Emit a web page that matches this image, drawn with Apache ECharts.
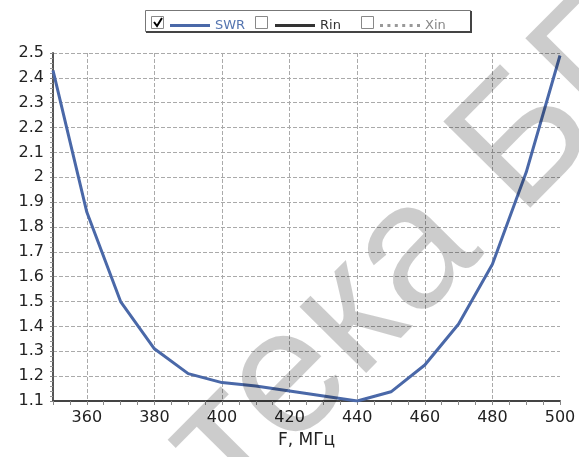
<!DOCTYPE html>
<html>
<head>
<meta charset="utf-8">
<script src="https://cdn.jsdelivr.net/npm/echarts@6/dist/echarts.min.js"></script>
<style>
    html, body { margin: 0; padding: 0; background: #fff; }
    #main { width: 579px; height: 457px; }
</style>
</head>
<body>
<div id="main"></div>
<script>
    // частота, МГц и КСВ
    const freq = [350, 360, 370, 380, 390, 400, 410, 420, 430, 440, 450, 460, 470, 480, 490, 500];
    const swr = [2.43, 1.86, 1.5, 1.31, 1.21, 1.174, 1.16, 1.14, 1.12, 1.1, 1.137, 1.245, 1.41, 1.65, 2.02, 2.49];
    const xLabels = [360, 380, 400, 420, 440, 460, 480, 500];
    const xGrid = [360, 380, 400, 420, 440, 460, 480];
    const legendNames = ['SWR', 'Rin', 'Xin'];

    const font = 'DejaVu Sans';
    const lineIcon = 'path://M0,0L40,0L40,3L0,3Z';
    const dotIcon = 'path://M0,0h3v3h-3zM7.4,0h3v3h-3zM14.8,0h3v3h-3zM22.2,0h3v3h-3zM29.6,0h3v3h-3zM37,0h3v3h-3z';
    const myChart = echarts.init(document.getElementById('main'));

    const legendBase = {
        top: 19,
        padding: 0,
        itemWidth: 40,
        itemHeight: 3,
        selectedMode: false,
        textStyle: {fontFamily: font, fontSize: 13}
    };

    const option = {
        animation: false,
        backgroundColor: '#fff',
        grid: {left: 53, right: 19, top: 53, bottom: 56},
        legend: [
            Object.assign({}, legendBase, {left: 170, data: [{name: legendNames[0], icon: lineIcon, textStyle: {color: '#5575b0'}}]}),
            Object.assign({}, legendBase, {left: 275, data: [{name: legendNames[1], icon: lineIcon, textStyle: {color: '#333'}}]}),
            Object.assign({}, legendBase, {left: 380, data: [{name: legendNames[2], icon: dotIcon, textStyle: {color: '#888'}}]})
        ],
        xAxis: [{
            type: 'value',
            min: 350,
            max: 500,
            interval: 5,
            name: 'F, МГц',
            nameLocation: 'middle',
            nameGap: 31,
            nameTextStyle: {fontFamily: font, fontSize: 17, color: '#222'},
            axisLine: {show: true, onZero: false, lineStyle: {color: '#444', width: 2}},
            axisTick: {show: true, length: 4, lineStyle: {color: '#888'}},
            axisLabel: {customValues: xLabels, margin: 9, fontFamily: font, fontSize: 16, color: '#222'},
            splitLine: {show: false}
        }, {
            type: 'value',
            min: 350,
            max: 500,
            position: 'bottom',
            axisLine: {show: false},
            axisTick: {show: false, customValues: xGrid},
            axisLabel: {show: false},
            splitLine: {show: true, lineStyle: {color: '#aaa', type: 'dashed', width: 1}}
        }],
        yAxis: {
            type: 'value',
            min: 1.1,
            max: 2.5,
            interval: 0.1,
            axisLine: {show: true, onZero: false, lineStyle: {color: '#555', width: 2}},
            axisTick: {show: true, length: 3, lineStyle: {color: '#888'}},
            minorTick: {show: true, splitNumber: 5, length: 3, lineStyle: {color: '#999'}},
            axisLabel: {margin: 9, fontFamily: font, fontSize: 16, color: '#222'},
            splitLine: {show: true, lineStyle: {color: '#aaa', type: 'dashed', width: 1}}
        },
        series: [{
            name: 'SWR',
            type: 'line',
            xAxisIndex: 0,
            data: freq.map(function (f, i) { return [f, swr[i]]; }),
            symbol: 'none',
            color: '#4a68a8',
            lineStyle: {width: 3, color: '#4a68a8'}
        }, {
            name: 'Rin',
            type: 'line',
            data: [],
            symbol: 'none',
            color: '#333',
            lineStyle: {width: 3, color: '#333'}
        }, {
            name: 'Xin',
            type: 'line',
            data: [],
            symbol: 'none',
            color: '#999',
            lineStyle: {width: 3, color: '#999', type: 'dotted'}
        }],
        graphic: [
            // рамка легенды
            {type: 'rect', z: 0, shape: {x: 145.5, y: 10.5, width: 325, height: 21},
                style: {fill: '#fff', stroke: '#777', lineWidth: 1}},
            {type: 'polyline', z: 1, shape: {points: [[146, 32], [471, 32], [471, 11]]},
                style: {stroke: '#444', lineWidth: 2, fill: null}},
            // флажки
            {type: 'rect', z: 1, shape: {x: 151.5, y: 16.5, width: 12, height: 12},
                style: {fill: '#fff', stroke: '#888', lineWidth: 1}},
            {type: 'polyline', z: 2, shape: {points: [[154, 22], [157, 26], [162, 18]]},
                style: {stroke: '#000', lineWidth: 2, fill: null}},
            {type: 'rect', z: 1, shape: {x: 255.5, y: 16.5, width: 12, height: 12},
                style: {fill: '#fff', stroke: '#888', lineWidth: 1}},
            {type: 'rect', z: 1, shape: {x: 361.5, y: 16.5, width: 12, height: 12},
                style: {fill: '#fff', stroke: '#888', lineWidth: 1}},
            // водяной знак
            {type: 'text', z: 100, x: -231, y: 906, rotation: 0.79, silent: true,
                style: {text: 'Библиотека БГУИР', font: '178px "Liberation Sans"',
                    fill: 'rgba(0,0,0,0.2)', align: 'left', verticalAlign: 'middle'}}
        ]
    };
    myChart.setOption(option);
</script>
</body>
</html>
